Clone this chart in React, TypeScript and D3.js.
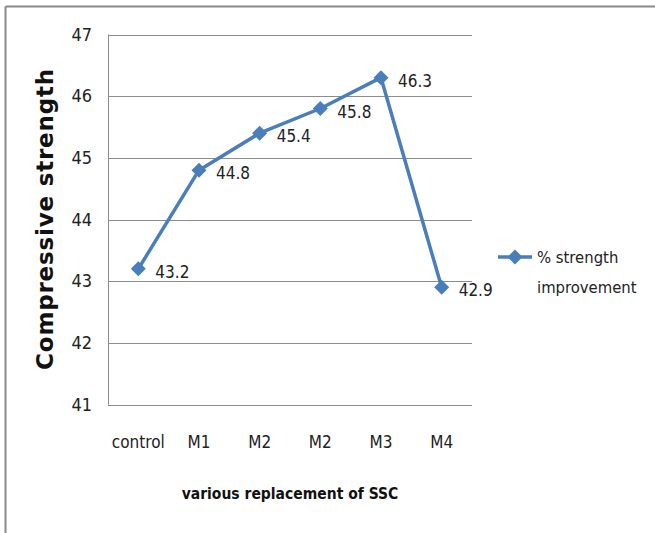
import React from "react";
import * as d3 from "d3";

// Compressive strength per mix
const categories = ["control", "M1", "M2", "M2", "M3", "M4"];
const strengths = [43.2, 44.8, 45.4, 45.8, 46.3, 42.9];
const yTicks = [41, 42, 43, 44, 45, 46, 47];
const seriesName = ["% strength", "improvement"];

const W = 655;
const H = 533;
const plot = { left: 108, right: 472, top: 34.5, bottom: 404.5 };
const BLUE = "#4A7EBB";
const FONT = "'Liberation Sans Narrow', 'DejaVu Sans Condensed', 'Open Sans', sans-serif";

function diamond(cx: number, cy: number, r: number) {
  return `M${cx},${cy - r}L${cx + r},${cy}L${cx},${cy + r}L${cx - r},${cy}Z`;
}

export default function App() {
  const x = d3
    .scaleBand<number>()
    .domain(categories.map((_, i) => i))
    .range([plot.left, plot.right]);
  const y = d3.scaleLinear().domain([41, 47]).range([plot.bottom, plot.top]);

  const pts = strengths.map((v, i) => [x(i)! + x.bandwidth() / 2, y(v)] as [number, number]);
  const line = d3.line()(pts) || "";

  return (
    <svg
      width={W}
      height={H}
      style={{ position: "absolute", left: 0, top: 0, background: "#fff" }}
      fontFamily={FONT}
    >
      {/* frame edges */}
      <line x1={5.5} x2={655} y1={6.5} y2={6.5} stroke="#888" strokeWidth={2} />
      <line x1={5.5} x2={5.5} y1={6.5} y2={533} stroke="#888" strokeWidth={2} />

      {/* gridlines and y tick labels */}
      {yTicks.map((t) => (
        <g key={t}>
          <line
            x1={plot.left}
            x2={plot.right}
            y1={Math.round(y(t)) + 0.5}
            y2={Math.round(y(t)) + 0.5}
            stroke="#8c8c8c"
            strokeWidth={1}
          />
          <text x={92} y={y(t) + 6} textAnchor="end" fontSize={18} fill="#222">
            {t}
          </text>
        </g>
      ))}
      <line x1={plot.left + 0.5} x2={plot.left + 0.5} y1={plot.top} y2={plot.bottom} stroke="#8c8c8c" />

      {/* x category labels */}
      {categories.map((c, i) => (
        <text
          key={i}
          x={x(i)! + x.bandwidth() / 2}
          y={448}
          textAnchor="middle"
          fontSize={17}
          fill="#222"
        >
          {c}
        </text>
      ))}

      {/* axis titles */}
      <text x={290} y={499} textAnchor="middle" fontSize={15.5} fontWeight="bold" fill="#111">
        various replacement of SSC
      </text>
      <text
        transform="translate(53,219) rotate(-90)"
        textAnchor="middle"
        fontSize={23}
        fontWeight="bold"
        fill="#111"
        fontFamily="'DejaVu Sans', sans-serif"
        letterSpacing={0.8}
      >
        Compressive strength
      </text>

      {/* series */}
      <path d={line} fill="none" stroke={BLUE} strokeWidth={3.5} strokeLinejoin="round" />
      {pts.map(([cx, cy], i) => (
        <path key={i} d={diamond(cx, cy, 7.5)} fill={BLUE} />
      ))}
      {pts.map(([cx, cy], i) => (
        <text key={i} x={cx + 17} y={cy + 9} fontSize={17} fill="#222">
          {strengths[i].toFixed(1)}
        </text>
      ))}

      {/* legend */}
      <line x1={498} x2={532} y1={257} y2={257} stroke={BLUE} strokeWidth={3.5} />
      <path d={diamond(515, 257, 7.5)} fill={BLUE} />
      <text x={537} y={263} fontSize={16.5} fill="#222">
        {seriesName[0]}
      </text>
      <text x={537} y={293} fontSize={16.5} fill="#222">
        {seriesName[1]}
      </text>
    </svg>
  );
}
